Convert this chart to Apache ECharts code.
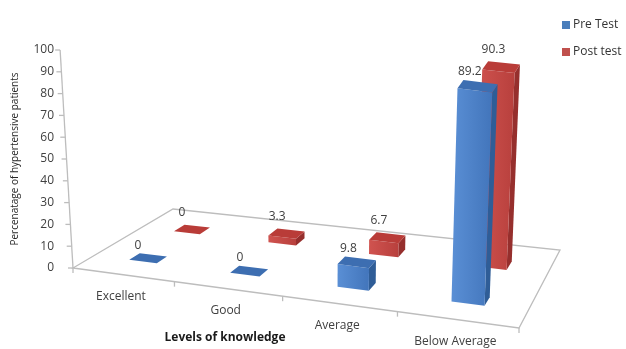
<!DOCTYPE html>
<html>
<head>
<meta charset="utf-8">
<style>
  html, body { margin: 0; padding: 0; background: #fff; }
  #main { width: 626px; height: 349px; }
</style>
<script src="https://cdn.jsdelivr.net/npm/echarts@6/dist/echarts.min.js"></script>
</head>
<body>
<div id="main"></div>
<script>
// data
var categories = ['Excellent', 'Good', 'Average', 'Below Average'];
var preTest = [0, 0, 9.8, 89.2];
var postTest = [0, 3.3, 6.7, 90.3];
var yTicks = [0, 10, 20, 30, 40, 50, 60, 70, 80, 90, 100];

// 3D look: floor corners relative to the axis origin, vanishing point of verticals
var FL = [7, 0], FR = [453, 60], BL = [107, -59], BR = [494, -18];
var VP = [264, 4352];
var HW = 0.14, HD = 0.055;

function floorPt(o, u, w) {
  var s = 0.22 * u + 0.0075 * u * u;
  var fx = FL[0] + (FR[0] - FL[0]) * s, fy = FL[1] + (FR[1] - FL[1]) * s;
  var bx = BL[0] + (BR[0] - BL[0]) * s, by = BL[1] + (BR[1] - BL[1]) * s;
  return [o[0] + fx + (bx - fx) * w, o[1] + fy + (by - fy) * w];
}
function lift(o, p, h) {
  var vx = o[0] + VP[0], vy = o[1] + VP[1];
  var t = h / (vy - p[1]);
  return [p[0] + (p[0] - vx) * t, p[1] - h];
}

function barRender(wc, labelDy, cols) {
  return function (params, api) {
    var idx = api.value(0), val = api.value(1);
    var cs = params.coordSys;
    var o = [cs.x, cs.y + cs.height];
    var hpx = o[1] - api.coord([idx, val])[1];
    var u0 = idx + 0.5 - HW, u1 = idx + 0.5 + HW, w0 = wc - HD, w1 = wc + HD;
    var a = floorPt(o, u0, w0), b = floorPt(o, u1, w0), c = floorPt(o, u1, w1), d = floorPt(o, u0, w1);
    var f = 1 + 0.0027 * (floorPt(o, idx + 0.5, w0)[1] - o[1]);
    var h = hpx * f;
    var A = lift(o, a, h), B = lift(o, b, h), C = lift(o, c, h), D = lift(o, d, h);
    var lx = (A[0] + B[0]) / 2 - 5, ly = Math.min(C[1], D[1]) - labelDy;
    return {
      type: 'group',
      children: [
        { type: 'polygon', shape: { points: [b, c, C, B] }, style: { fill: cols.side } },
        { type: 'polygon', shape: { points: [a, b, B, A] },
          style: { fill: new echarts.graphic.LinearGradient(0, 0, 1, 0, [
            { offset: 0, color: cols.front[0] }, { offset: 1, color: cols.front[1] }]) } },
        { type: 'polygon', shape: { points: [A, B, C, D] }, style: { fill: cols.top } },
        { type: 'text', x: lx, y: ly,
          style: { text: String(val), fill: '#404040', font: '12px "Open Sans"',
                   align: 'center', verticalAlign: 'bottom' } }
      ]
    };
  };
}

function frameRender(params, api) {
  var cs = params.coordSys;
  var o = [cs.x, cs.y + cs.height];
  var line = { stroke: '#bdbdbd', lineWidth: 1.3 };
  var kids = [];
  var f0 = floorPt(o, 0, 0), f1 = floorPt(o, 4, 0), b1 = floorPt(o, 4, 1), b0 = floorPt(o, 0, 1);
  kids.push({ type: 'polygon', shape: { points: [f0, f1, b1, b0] }, style: { fill: 'none', stroke: line.stroke, lineWidth: line.lineWidth } });
  for (var u = 0; u <= 4; u++) {
    var p = floorPt(o, u, 0);
    kids.push({ type: 'line', shape: { x1: p[0], y1: p[1], x2: p[0], y2: p[1] + 5 }, style: line });
  }
  categories.forEach(function (name, i) {
    var p = floorPt(o, i + 0.5, 0);
    kids.push({ type: 'text', x: p[0] - 2, y: p[1] + 22,
      style: { text: name, fill: '#404040', font: '12px "Open Sans"', align: 'center', verticalAlign: 'middle' } });
  });
  var top = lift(o, f0, o[1] - api.coord([0, yTicks[yTicks.length - 1]])[1]);
  kids.push({ type: 'line', shape: { x1: f0[0], y1: f0[1], x2: top[0], y2: top[1] }, style: line });
  yTicks.forEach(function (t) {
    var q = lift(o, f0, o[1] - api.coord([0, t])[1]);
    kids.push({ type: 'line', shape: { x1: q[0] - 5, y1: q[1], x2: q[0], y2: q[1] }, style: line });
  });
  return { type: 'group', children: kids };
}

var chart = echarts.init(document.getElementById('main'));
chart.setOption({
  animation: false,
  textStyle: { fontFamily: '"Open Sans", sans-serif' },
  legend: {
    data: ['Pre Test', 'Post test'],
    orient: 'vertical', left: 557, top: 14,
    itemWidth: 8, itemHeight: 8, itemGap: 15, icon: 'rect',
    textStyle: { fontSize: 12, color: '#333', padding: [0, 0, 0, -2] }
  },
  grid: { left: 66, top: 50, right: 242, bottom: 81, containLabel: false, outerBoundsMode: 'none' },
  xAxis: {
    type: 'category', data: categories,
    axisLine: { show: false }, axisTick: { show: false }, axisLabel: { show: false },
    name: 'Levels of knowledge', nameLocation: 'middle', nameGap: 64,
    nameTextStyle: { fontSize: 12, fontWeight: 'bold', color: '#1a1a1a' }
  },
  yAxis: {
    type: 'value', min: 0, max: 100, interval: 10,
    axisLine: { show: false }, axisTick: { show: false }, splitLine: { show: false },
    axisLabel: { margin: 12, fontSize: 12, color: '#404040' },
    name: 'Percenatage of hypertensive patients', nameLocation: 'middle', nameRotate: 90, nameGap: 46,
    nameTextStyle: { fontSize: 10, color: '#262626' }
  },
  series: [
    { type: 'custom', name: 'frame', silent: true, z: 1,
      data: [[0, 0]], renderItem: frameRender },
    { type: 'custom', name: 'Post test', z: 2,
      itemStyle: { color: '#c0504d' },
      data: postTest.map(function (v, i) { return [i, v]; }),
      encode: { x: 0, y: 1 },
      renderItem: barRender(0.74, 6, { front: ['#d0534f', '#b8403d'], side: '#962f2d', top: '#b93c38' }) },
    { type: 'custom', name: 'Pre Test', z: 3,
      itemStyle: { color: '#4a7ebb' },
      data: preTest.map(function (v, i) { return [i, v]; }),
      encode: { x: 0, y: 1 },
      renderItem: barRender(0.27, 2, { front: ['#5a8fd5', '#4275bb'], side: '#2f5d97', top: '#3d6eb1' }) }
  ]
});
</script>
</body>
</html>
